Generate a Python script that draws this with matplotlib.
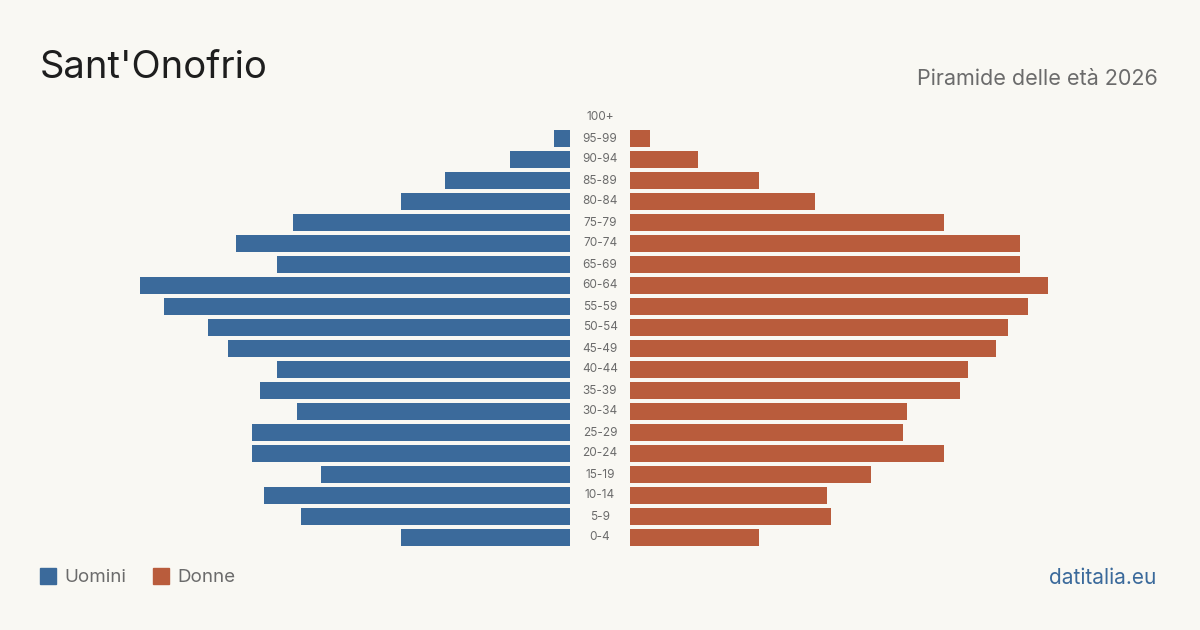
import matplotlib
matplotlib.use("Agg")
import matplotlib.pyplot as plt
from matplotlib.patches import Rectangle

plt.rcParams['font.family'] = ['Inter', 'DejaVu Sans']

age_groups = ["0-4", "5-9", "10-14", "15-19", "20-24", "25-29", "30-34", "35-39",
              "40-44", "45-49", "50-54", "55-59", "60-64", "65-69", "70-74",
              "75-79", "80-84", "85-89", "90-94", "95-99", "100+"]
men = [42, 67, 76, 62, 79, 79, 68, 77, 73, 85, 90, 101, 107, 73, 83, 69, 42, 31, 15, 4, 0]
women = [32, 50, 49, 60, 78, 68, 69, 82, 84, 91, 94, 99, 104, 97, 97, 78, 46, 32, 17, 5, 0]

BG = "#f9f8f3"
BLUE = "#3b6a9b"
ORANGE = "#b95c3c"

W, H = 1200, 630
fig = plt.figure(figsize=(W / 100, H / 100), dpi=100, facecolor=BG)

px_per_unit = 4.02
half_gap = 30 / px_per_unit
ax = fig.add_axes([0, (630 - 548) / H, 1, 441 / H])
ax.set_facecolor(BG)
ax.set_xlim(-600 / px_per_unit, 600 / px_per_unit)
ax.set_ylim(-0.5, len(age_groups) - 0.5)
ax.axis("off")

ys = list(range(len(age_groups)))
ax.barh(ys, [-v for v in men], left=-half_gap, height=0.81, color=BLUE)
ax.barh(ys, women, left=half_gap, height=0.81, color=ORANGE)
for y, lab in zip(ys, age_groups):
    ax.text(0, y, lab, ha="center", va="center", fontsize=8.5, color="#6b6b6b")

fig.text(40 / W, 1 - 68 / H, "Sant'Onofrio", fontsize=27.5, color="#1e1e1e",
         ha="left", va="center")
fig.text(1158 / W, 1 - 79 / H, "Piramide delle età 2026", fontsize=15.5,
         color="#6b6b6b", ha="right", va="center")

# legend
fig.patches.append(Rectangle((40 / W, 1 - 584 / H), 16 / W, 16 / H,
                             transform=fig.transFigure, color=BLUE))
fig.text(64 / W, 1 - 578 / H, "Uomini", fontsize=13.5, color="#6b6b6b",
         ha="left", va="center")
fig.patches.append(Rectangle((153 / W, 1 - 584 / H), 16 / W, 16 / H,
                             transform=fig.transFigure, color=ORANGE))
fig.text(177 / W, 1 - 578 / H, "Donne", fontsize=13.5, color="#6b6b6b",
         ha="left", va="center")

fig.text(1156 / W, 1 - 578 / H, "datitalia.eu", fontsize=15, color=BLUE,
         ha="right", va="center")

fig.savefig("out.png", dpi=100, facecolor=BG)
